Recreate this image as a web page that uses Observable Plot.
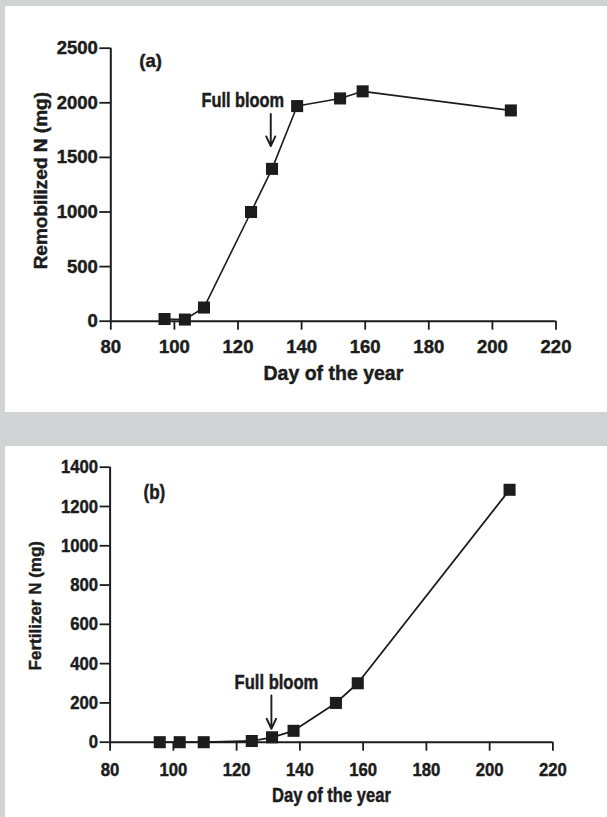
<!DOCTYPE html>
<html>
<head>
<meta charset="utf-8">
<script src="https://cdn.jsdelivr.net/npm/d3@7"></script>
<script src="https://cdn.jsdelivr.net/npm/@observablehq/plot@0.6"></script>
<style>
  html, body { margin: 0; padding: 0; background: #d1d3d4; }
  #wrap { position: relative; width: 607px; height: 817px; background: #d1d3d4; overflow: hidden; }
  .panel { position: absolute; background: #ffffff; }
  #pa { left: 5px; top: 6px; width: 602px; height: 406px; }
  #pb { left: 5px; top: 446px; width: 602px; height: 371px; }
  .panel svg { display: block; }
  .panel svg text { stroke: #1c1c1c; stroke-width: 0.45px; paint-order: stroke; }
</style>
</head>
<body>
<div id="wrap">
  <div class="panel" id="pa"></div>
  <div class="panel" id="pb"></div>
</div>
<script>
// ---- Data ----
const daysA = [96.9, 103.3, 109.3, 124.1, 130.7, 138.6, 152.1, 159.2, 205.8];
const remobilizedN = [20, 15, 125, 1000, 1395, 1970, 2040, 2105, 1930];

const daysB = [95.7, 102.0, 109.6, 124.8, 131.2, 138.0, 151.4, 158.3, 206.3];
const fertilizerN = [0, 0, 0, 6, 25, 58, 200, 300, 1285];

const xTicks = [80, 100, 120, 140, 160, 180, 200, 220];
const yTicksA = [0, 500, 1000, 1500, 2000, 2500];
const yTicksB = [0, 200, 400, 600, 800, 1000, 1200, 1400];

const xTitle = "Day of the year";
const yTitleA = "Remobilized N (mg)";
const yTitleB = "Fertilizer N (mg)";
const panelLabelA = "(a)";
const panelLabelB = "(b)";
const bloomLabel = "Full bloom";

// ---- build tables ----
const dataA = daysA.map((d, i) => ({day: d, n: remobilizedN[i]}));
const dataB = daysB.map((d, i) => ({day: d, n: fertilizerN[i]}));

const INK = "#1c1c1c";
const SANS = "'Liberation Sans', Arial, Helvetica, sans-serif";

// horizontally condense a text element (the reference uses a condensed face)
function condense(el, f) {
  const w = el.getComputedTextLength();
  if (w > 0) {
    el.setAttribute("textLength", (w * f).toFixed(2));
    el.setAttribute("lengthAdjust", "spacingAndGlyphs");
  }
}

const plotA = Plot.plot({
  width: 602, height: 406,
  marginLeft: 105.3, marginRight: 51.5, marginTop: 41.7, marginBottom: 91.3,
  x: {domain: [80, 220]},
  y: {domain: [0, 2500]},
  style: {fontFamily: SANS, fontWeight: "bold", color: INK, background: "transparent", overflow: "visible"},
  marks: [
    Plot.axisX({ticks: xTicks, tickSize: 9, tickPadding: 10, fontSize: 18.5, label: null, strokeWidth: 1.8, tickFormat: d => String(d)}),
    Plot.axisY({ticks: yTicksA, tickSize: 11, tickPadding: 2, fontSize: 18.5, label: null, strokeWidth: 1.8, tickFormat: d => String(d)}),
    Plot.ruleY([0], {x1: 80, x2: 220, stroke: INK, strokeWidth: 2}),
    Plot.ruleX([80], {y1: 0, y2: 2500, stroke: INK, strokeWidth: 2}),
    Plot.line(dataA, {x: "day", y: "n", stroke: INK, strokeWidth: 1.6}),
    Plot.dot(dataA, {x: "day", y: "n", symbol: "square", r: 6.8, fill: INK, stroke: null}),
    Plot.text([panelLabelA], {x: 92.5, y: 2378, fontSize: 18.5, fill: INK}),
    Plot.text([bloomLabel], {x: 121.5, y: 2021, fontSize: 19.5, fill: INK}),
    Plot.arrow([0], {x1: 130.3, y1: 1899, x2: 130.3, y2: 1603, headLength: 13, headAngle: 50, stroke: INK, strokeWidth: 1.9}),
    Plot.text([xTitle], {frameAnchor: "bottom", lineAnchor: "middle", textAnchor: "middle", dy: 52.8, fontSize: 19.5, fill: INK}),
    Plot.text([yTitleA], {frameAnchor: "left", textAnchor: "middle", lineAnchor: "middle", rotate: -90, dx: -70.3, dy: -4, fontSize: 19, fill: INK})
  ]
});
document.getElementById("pa").appendChild(plotA);
d3.select(plotA).selectAll("text").each(function () {
  if (this.textContent === bloomLabel) condense(this, 0.84);
});

const plotB = Plot.plot({
  width: 602, height: 371,
  marginLeft: 104.6, marginRight: 54.6, marginTop: 20.7, marginBottom: 75.3,
  x: {domain: [80, 220]},
  y: {domain: [0, 1400]},
  style: {fontFamily: SANS, fontWeight: "bold", color: INK, background: "transparent", overflow: "visible"},
  marks: [
    Plot.axisX({ticks: xTicks, tickSize: 9, tickPadding: 11, fontSize: 19, label: null, strokeWidth: 1.8, tickFormat: d => String(d)}),
    Plot.axisY({ticks: yTicksB, tickSize: 10, tickPadding: 2, fontSize: 19, label: null, strokeWidth: 1.8, tickFormat: d => String(d)}),
    Plot.ruleY([0], {x1: 80, x2: 220, stroke: INK, strokeWidth: 2}),
    Plot.ruleX([80], {y1: 0, y2: 1400, stroke: INK, strokeWidth: 2}),
    Plot.line(dataB, {x: "day", y: "n", stroke: INK, strokeWidth: 1.8}),
    Plot.dot(dataB, {x: "day", y: "n", symbol: "square", r: 6.8, fill: INK, stroke: null}),
    Plot.text([panelLabelB], {x: 94, y: 1269, fontSize: 19.5, fill: INK}),
    Plot.text([bloomLabel], {x: 132.6, y: 301, fontSize: 19.5, fill: INK}),
    Plot.arrow([0], {x1: 131, y1: 238, x2: 131, y2: 68, headLength: 13, headAngle: 50, stroke: INK, strokeWidth: 1.9}),
    Plot.text([xTitle], {frameAnchor: "bottom", lineAnchor: "middle", textAnchor: "middle", dy: 53.8, fontSize: 19.5, fill: INK}),
    Plot.text([yTitleB], {frameAnchor: "left", textAnchor: "middle", lineAnchor: "middle", rotate: -90, dx: -74.6, dy: 1, fontSize: 17, fill: INK})
  ]
});
document.getElementById("pb").appendChild(plotB);
d3.select(plotB).selectAll("text").each(function () {
  if (this.textContent !== yTitleB) condense(this, this.textContent === bloomLabel || this.textContent === xTitle ? 0.85 : 0.88);
});
</script>
</body>
</html>
